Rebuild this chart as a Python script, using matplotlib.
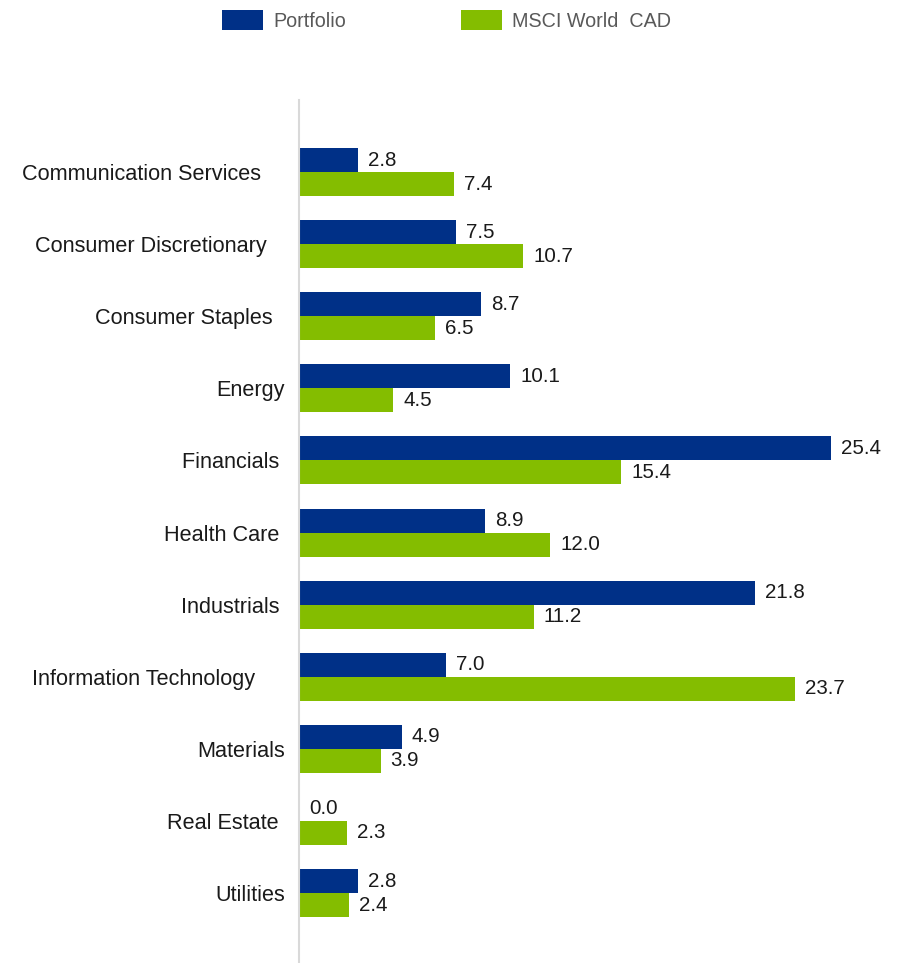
import matplotlib
matplotlib.use("Agg")
import matplotlib.pyplot as plt
import numpy as np
from matplotlib.patches import Patch

categories = [
    "Communication Services    ",
    "Consumer Discretionary   ",
    "Consumer Staples  ",
    "Energy",
    "Financials ",
    "Health Care ",
    "Industrials ",
    "Information Technology     ",
    "Materials",
    "Real Estate ",
    "Utilities",
]
portfolio = [2.8, 7.5, 8.7, 10.1, 25.4, 8.9, 21.8, 7.0, 4.9, 0.0, 2.8]
msci = [7.4, 10.7, 6.5, 4.5, 15.4, 12.0, 11.2, 23.7, 3.9, 2.3, 2.4]
series_names = ["Portfolio", "MSCI World  CAD"]

navy = "#003087"
green = "#84BD00"

plt.rcParams["font.family"] = ["Liberation Sans", "DejaVu Sans"]

W, H = 905, 963
fig = plt.figure(figsize=(W / 100, H / 100), dpi=100)
ax = fig.add_axes([299 / W, 0, (W - 299) / W, (963 - 100) / H])

y = np.arange(len(categories))
h = 0.333
ax.barh(y - h / 2, portfolio, height=h, color=navy)
ax.barh(y + h / 2, msci, height=h, color=green)

for yi, v in zip(y, portfolio):
    ax.annotate(f"{v:.1f}", (v, yi - h / 2), xytext=(10, 0), textcoords="offset pixels",
                va="center", ha="left", fontsize=14.8, color="#1a1a1a")
for yi, v in zip(y, msci):
    ax.annotate(f"{v:.1f}", (v, yi + h / 2), xytext=(10, 0), textcoords="offset pixels",
                va="center", ha="left", fontsize=14.8, color="#1a1a1a")

ax.set_xlim(0, (W - 299) / 20.94)
ax.set_ylim(10.97, -1)
ax.set_yticks(y)
ax.set_yticklabels(categories, fontsize=15.6, color="#1a1a1a")
ax.tick_params(axis="y", length=0, pad=10)
ax.set_xticks([])
for s in ["top", "right", "bottom"]:
    ax.spines[s].set_visible(False)
ax.spines["left"].set_color("#d9d9d9")
ax.spines["left"].set_linewidth(1.5)

handles = [Patch(facecolor=navy), Patch(facecolor=green)]
leg = fig.legend(handles, series_names, loc="upper left", bbox_to_anchor=(222 / W, 1 - 10 / H),
                 ncol=2, frameon=False, fontsize=14.2, borderpad=0, borderaxespad=0,
                 handlelength=2.07, handleheight=1.2, handletextpad=0.55, columnspacing=5.8)
for t in leg.get_texts():
    t.set_color("#595959")

fig.savefig("out.png", dpi=100)
